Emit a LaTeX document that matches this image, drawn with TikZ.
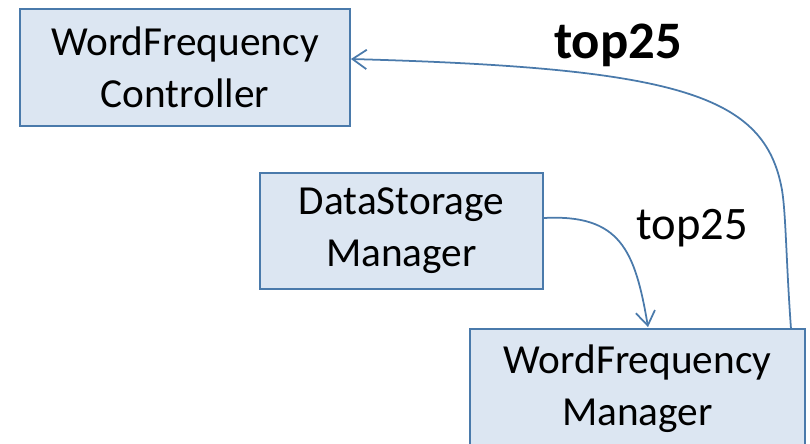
\documentclass[tikz,border=0pt]{standalone}
\usepackage{fontspec}
\setmainfont{Carlito}
\usetikzlibrary{arrows.meta}
\definecolor{boxfill}{HTML}{DCE6F2}
\definecolor{boxline}{HTML}{4A7AAB}
\begin{document}
\begin{tikzpicture}[x=0.02cm, y=-0.02cm,
  main node/.style={rectangle,draw=boxline,fill=boxfill,line width=1.1pt,align=center,inner sep=0pt,font=\fontsize{23.5}{29.5}\selectfont},
  flow/.style={draw=boxline,line width=1pt,-{Straight Barb[length=8pt,width=11pt]}},
  flow label/.style={font=\fontsize{26.5}{30}\selectfont}]
\useasboundingbox (0,0) rectangle (810,443);
\node [main node,minimum width=6.6cm,minimum height=2.34cm](wfc) at (185,67.5) {WordFrequency\\Controller};
\node [main node,minimum width=5.66cm,minimum height=2.32cm](dsm) at (401.5,231) {DataStorage\\Manager};
\node [main node,minimum width=6.7cm,minimum height=2.4cm](wfm) at (637.5,389) {WordFrequency\\Manager};
\node [flow label,font=\fontsize{30}{32}\selectfont\bfseries](lbl1) at (618,45) {top25};
\node [flow label](lbl2) at (692,228) {top25};
\coordinate (dsmout) at ([yshift=0.26cm]dsm.east);
\coordinate (wfmin) at ([xshift=0.21cm,yshift=0.02cm]wfm.north);
\coordinate (wfmout) at ([xshift=-0.3cm]wfm.north east);
\coordinate (wfcin) at ([yshift=0.17cm]wfc.east);
\draw [flow] (dsmout) .. controls (620,214) and (635,250) .. (wfmin);
\draw [flow] (wfmout) .. controls (786,260) and (786,215) .. (782,190)
                      .. controls (765,95) and (680,68) .. (wfcin);
\end{tikzpicture}
\end{document}
